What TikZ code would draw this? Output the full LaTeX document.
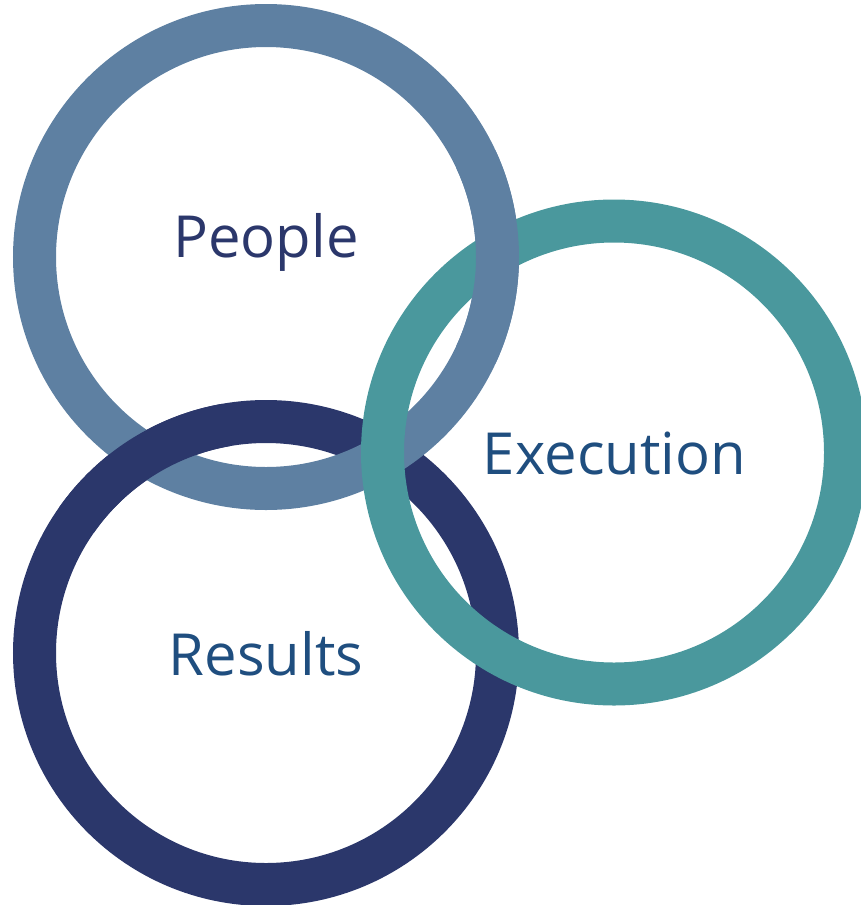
\documentclass[tikz,border=0pt]{standalone}
\usepackage{fontspec}
\setmainfont{Open Sans}
\definecolor{peoplering}{HTML}{5E80A2}
\definecolor{execring}{HTML}{4A989D}
\definecolor{resultsring}{HTML}{2B376B}
\definecolor{peopletext}{HTML}{2B376B}
\definecolor{bluetext}{HTML}{1F4E7F}
\begin{document}
\begin{tikzpicture}[x=1pt,y=-1pt,
  ring/.style={line width=43pt},
  lbl/.style={font=\fontsize{58}{70}\selectfont, anchor=base, inner sep=0pt}]
\useasboundingbox (0,0) rectangle (861,905);
\clip (0,0) rectangle (861,905);
\coordinate (pc) at (266,257);
\coordinate (ec) at (614,452.5);
\coordinate (rc) at (266,653);
% full rings
\draw[ring, resultsring] (rc) circle[radius=231.5];
\draw[ring, peoplering] (pc) circle[radius=231.5];
% Results passes over People at the left crossing
\draw[ring, resultsring] ([shift={(-100:231.5)}]rc) arc[start angle=-100, end angle=-145, radius=231.5];
\draw[ring, execring] (ec) circle[radius=231.5];
% People passes over Execution at the upper crossing
\draw[ring, peoplering] ([shift={(-25:231.5)}]pc) arc[start angle=-25, end angle=25, radius=231.5];
% labels
\node[lbl, text=peopletext] (people) at (266,257.3) {People};
\node[lbl, text=bluetext] (execution) at (614.5,474) {Execution};
\node[lbl, text=bluetext] (results) at (266,675) {Results};
\end{tikzpicture}
\end{document}
